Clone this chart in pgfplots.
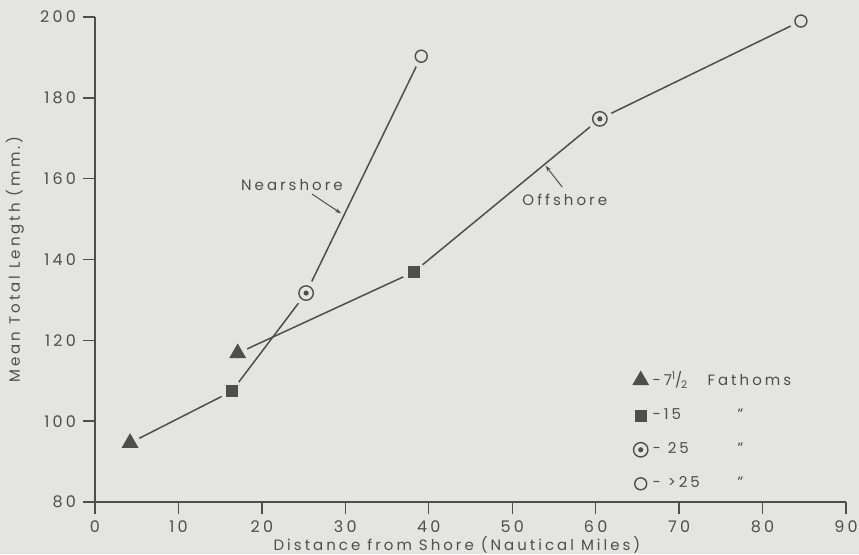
\documentclass[border=0pt]{standalone}
\usepackage{fontspec}
\setmainfont{Poppins}[LetterSpace=20]
\usepackage{pgfplots}
\pgfplotsset{compat=1.18}
\usepackage{pgfplotstable}
\usetikzlibrary{backgrounds,arrows.meta}
\definecolor{bg}{RGB}{228,228,226}
\definecolor{ink}{RGB}{78,78,78}

\pgfdeclareplotmark{dcirc}{%
  \pgfpathcircle{\pgfpointorigin}{\pgfplotmarksize}\pgfusepathqstroke
  \pgfpathcircle{\pgfpointorigin}{0.36\pgfplotmarksize}\pgfusepathqfill}

\pgfplotstableread{
x y c
4.2 94.6 a
16.4 107.4 b
25.3 131.7 c
39.1 190.3 d
}\nearshore

\pgfplotstableread{
x y c
17.1 116.8 a
38.2 136.9 b
60.5 174.8 c
84.6 199.0 d
}\offshore

\pgfplotsset{
  blobs/.style={only marks, forget plot, scatter, point meta=explicit symbolic,
    scatter/classes={
      a={mark=*, mark size=5pt, draw=bg, fill=bg},
      b={mark=*, mark size=5.5pt, draw=bg, fill=bg},
      c={mark=*, mark size=6.2pt, draw=bg, fill=bg},
      d={mark=*, mark size=5.5pt, draw=bg, fill=bg}}},
  marks/.style={only marks, forget plot, scatter, point meta=explicit symbolic,
    scatter/classes={
      a={mark=triangle*, mark size=4.5pt, draw=ink, fill=ink},
      b={mark=square*, mark size=2.7pt, draw=ink, fill=ink},
      c={mark=dcirc, mark size=3.6pt, draw=ink, fill=ink, line width=0.7pt},
      d={mark=o, mark size=3pt, draw=ink, line width=0.7pt}}},
}

\newcommand{\ditto}{\hspace{15pt}\symbol{34}}

\begin{document}
\begin{tikzpicture}[font=\fontsize{7.5}{9}\selectfont, color=ink]
\useasboundingbox (-47.5pt,-26pt) rectangle (382pt,251pt);
\begin{axis}[
  scale only axis, width=375.5pt, height=242.5pt,
  xmin=0, xmax=90, ymin=80, ymax=200,
  axis lines=left, axis line style={-, ink, line width=0.7pt},
  xtick={0,10,...,90}, ytick={80,100,...,200},
  tick align=outside, major tick length=6pt,
  tick style={ink, line width=0.7pt},
  /pgf/number format/assume math mode=true,
  ticklabel style={font=\fontsize{8}{9}\selectfont, text=ink},
  xlabel={Distance from Shore (Nautical Miles)},
  ylabel={Mean Total Length (mm.)},
  every axis x label/.style={at={(axis description cs:0.482,-0.0887)}, anchor=center},
  every axis y label/.style={at={(axis description cs:-0.1065,0.5)}, anchor=center, rotate=90},
  legend style={draw=none, fill=none, at={(axis cs:63.7,114.3)}, anchor=north west,
    row sep=6pt, font=\fontsize{7.5}{9}\selectfont, text=ink},
  legend cell align=left,
]
\addplot[ink, line width=0.75pt, forget plot] table[x=x, y=y] {\nearshore};
\addplot[ink, line width=0.75pt, forget plot] table[x=x, y=y] {\offshore};
\addplot[blobs] table[x=x, y=y, meta=c] {\nearshore};
\addplot[blobs] table[x=x, y=y, meta=c] {\offshore};
\addplot[marks] table[x=x, y=y, meta=c] {\nearshore};
\addplot[marks] table[x=x, y=y, meta=c] {\offshore};

\addlegendimage{only marks, mark=triangle*, mark size=4.5pt, draw=ink, fill=ink}
\addlegendentry{\makebox[27.5pt][l]{-7\textsuperscript{1}\kern-.6pt/\kern-.6pt\textsubscript{2}}Fathoms}
\addlegendimage{only marks, mark=square*, mark size=2.7pt, draw=ink, fill=ink}
\addlegendentry{\makebox[27.5pt][l]{-15}\ditto}
\addlegendimage{only marks, mark=dcirc, mark size=3.6pt, draw=ink, fill=ink, line width=0.7pt}
\addlegendentry{\makebox[27.5pt][l]{- 25}\ditto}
\addlegendimage{only marks, mark=o, mark size=3pt, draw=ink, line width=0.7pt}
\addlegendentry{\makebox[27.5pt][l]{- >25}\ditto}

\node[text=ink] at (axis cs:23.6,158.4) {Nearshore};
\draw[ink, line width=0.5pt, -{Stealth[length=3pt,width=2pt]}] (axis cs:26.0,156.2) -- (axis cs:29.5,151.4);
\node[text=ink] at (axis cs:56.3,154.7) {Offshore};
\draw[ink, line width=0.5pt, -{Stealth[length=3pt,width=2pt]}] (axis cs:56.0,157.9) -- (axis cs:54.0,163.2);
\end{axis}
\begin{scope}[on background layer]
\fill[bg] (-47.5pt,-26pt) rectangle (382pt,251pt);
\end{scope}
\end{tikzpicture}
\end{document}
